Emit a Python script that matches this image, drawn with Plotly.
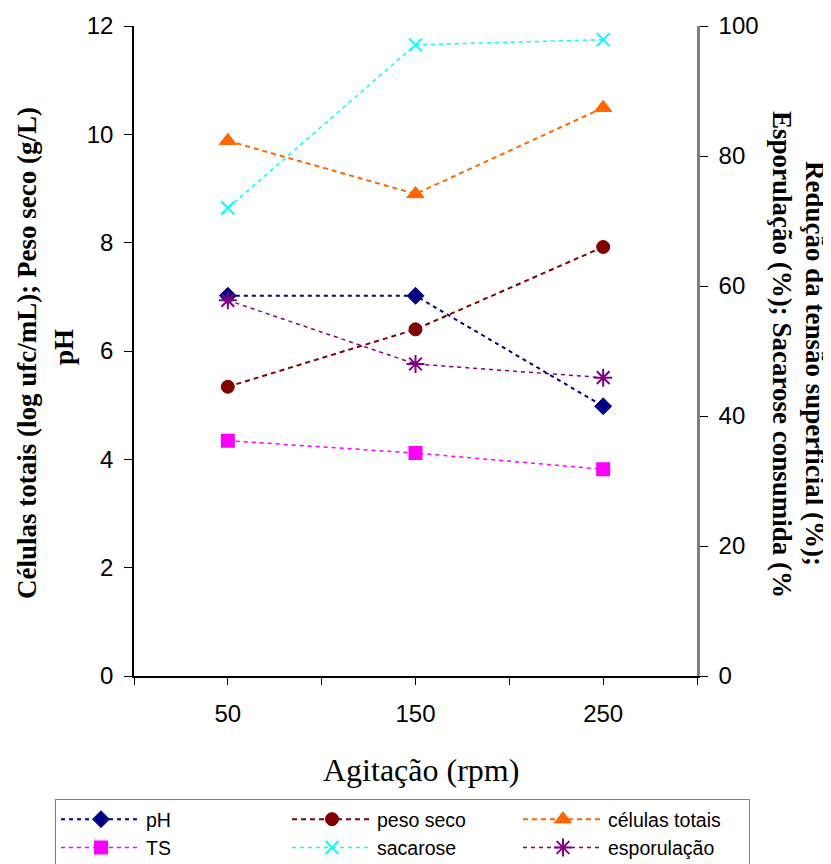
import plotly.graph_objects as go

agitacao = [50, 150, 250]
ph = [7.02, 7.02, 4.98]
peso_seco = [5.34, 6.40, 7.92]
celulas_totais = [9.88, 8.90, 10.49]
ts = [36.2, 34.3, 31.8]
sacarose = [72.0, 97.1, 97.9]
esporulacao = [57.8, 48.0, 45.9]

x_tickvals = [0, 50, 100, 150, 200, 250, 300]
x_ticktext = ["", "50", "", "150", "", "250", ""]

left_series = [
    ("pH", ph, "#000080", "diamond", 13, "4px,4px", 2),
    ("peso seco", peso_seco, "#800000", "circle", 13, "5px,4px", 2),
    ("células totais", celulas_totais, "#FF6600", "triangle-up", 15, "5px,4px", 2),
]
right_series = [
    ("TS", ts, "#FF00FF", "square", 12, "4px,4px", 1.5),
    ("sacarose", sacarose, "#00FFFF", "x-thin", 13, "4px,4px", 1.5),
    ("esporulação", esporulacao, "#800080", "asterisk", 15, "4px,4px", 1.5),
]

fig = go.Figure()
for name, vals, col, sym, sz, dash, lw in left_series:
    fig.add_trace(go.Scatter(
        x=agitacao, y=vals, name=name, mode="lines+markers", yaxis="y",
        line=dict(color=col, dash=dash, width=lw),
        marker=dict(symbol=sym, size=sz, color=col, line=dict(color=col, width=1)),
    ))
for name, vals, col, sym, sz, dash, lw in right_series:
    fig.add_trace(go.Scatter(
        x=agitacao, y=vals, name=name, mode="lines+markers", yaxis="y2",
        line=dict(color=col, dash=dash, width=lw),
        marker=dict(symbol=sym, size=sz, color=col, line=dict(color=col, width=2)),
    ))

tick_font = dict(family="Liberation Sans, Arial", size=24, color="black")

# figure is 823x856; page adds an 8px body margin
W, H = 823, 856
L, R, T, B = 126, 134, 18, 188
PW, PH = W - L - R, H - T - B

fig.update_layout(
    width=W, height=H,
    margin=dict(l=L, r=R, t=T, b=B, autoexpand=False),
    paper_bgcolor="white", plot_bgcolor="white",
    showlegend=True,
    xaxis=dict(
        range=[0, 300], tickmode="array", tickvals=x_tickvals, ticktext=x_ticktext,
        showgrid=False, zeroline=False, showline=True, linecolor="black", linewidth=1.5,
        ticks="outside", ticklen=7, tickcolor="black", tickwidth=1,
        tickfont=tick_font, ticklabelstandoff=8, automargin=False,
    ),
    yaxis=dict(
        range=[0, 12], dtick=2, showgrid=False, zeroline=False, showline=True,
        linecolor="black", linewidth=1.5, ticks="outside", ticklen=8, tickcolor="black",
        tickfont=tick_font, ticklabelstandoff=6, automargin=False,
    ),
    yaxis2=dict(
        range=[0, 100], dtick=20, overlaying="y", side="right", showgrid=False, zeroline=False,
        showline=True, linecolor="#808080", linewidth=2.5, ticks="outside", ticklen=8,
        tickcolor="black", tickfont=tick_font, ticklabelstandoff=6, automargin=False,
    ),
    legend=dict(
        orientation="h", xref="paper", yref="paper",
        x=1 + (742 - (W - R)) / PW, y=(H - B - 791) / PH, xanchor="right", yanchor="top",
        entrywidth=136, entrywidthmode="pixels",
        bordercolor="#808080", borderwidth=1, bgcolor="white",
        font=dict(family="Liberation Sans, Arial", size=19.5, color="black"),
        itemwidth=80, tracegroupgap=0,
    ),
)

fig.add_annotation(text="Agitação (rpm)", xref="paper", yref="paper",
                   x=0.5 + 5 / 563, y=(676 - 770) / 650, showarrow=False,
                   font=dict(family="Liberation Serif, Times New Roman", size=32, color="black"),
                   xanchor="center", yanchor="middle")

title_font = dict(family="Liberation Serif, Times New Roman", size=27, color="black", weight="bold")
fig.add_annotation(text="Células totais (log ufc/mL); Peso seco (g/L)", xref="paper", yref="paper",
                   x=(27 - 134) / 563, y=(676 - 353) / 650, textangle=-90, showarrow=False, font=title_font,
                   xanchor="center", yanchor="middle")
fig.add_annotation(text="pH", xref="paper", yref="paper",
                   x=(64 - 134) / 563, y=(676 - 347) / 650, textangle=-90, showarrow=False, font=title_font,
                   xanchor="center", yanchor="middle")
fig.add_annotation(text="Redução da tensão superficial (%);", xref="paper", yref="paper",
                   x=(815 - 134) / 563, y=(676 - 363) / 650, textangle=90, showarrow=False, font=title_font,
                   xanchor="center", yanchor="middle")
fig.add_annotation(text="Esporulação (%); Sacarose consumida (%", xref="paper", yref="paper",
                   x=(782 - 134) / 563, y=(676 - 354) / 650, textangle=90, showarrow=False, font=title_font,
                   xanchor="center", yanchor="middle")

fig.write_html("out.html")
